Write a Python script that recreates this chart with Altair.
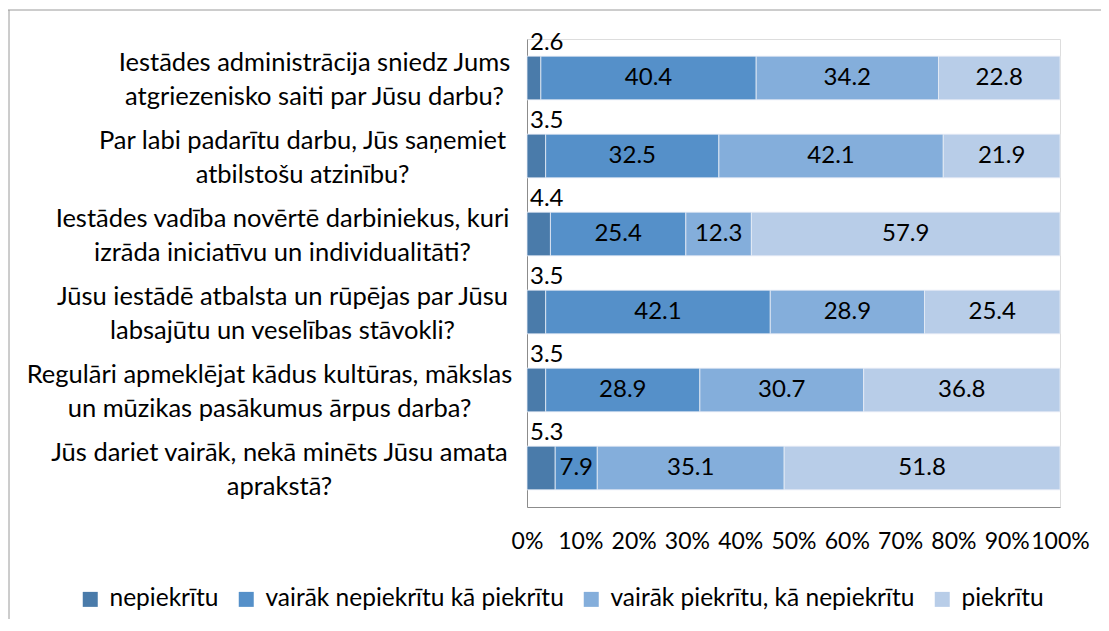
import json
import altair as alt
import pandas as pd

questions = [
    "Iestādes administrācija sniedz Jums\natgriezenisko saiti par Jūsu darbu?",
    "Par labi padarītu darbu, Jūs saņemiet\natbilstošu atzinību?",
    "Iestādes vadība novērtē darbiniekus, kuri\nizrāda iniciatīvu un individualitāti?",
    "Jūsu iestādē atbalsta un rūpējas par Jūsu\nlabsajūtu un veselības stāvokli?",
    "Regulāri apmeklējat kādus kultūras, mākslas\nun mūzikas pasākumus ārpus darba?",
    "Jūs dariet vairāk, nekā minēts Jūsu amata\naprakstā?",
]
categories = [
    "nepiekrītu",
    "vairāk nepiekrītu kā piekrītu",
    "vairāk piekrītu, kā nepiekrītu",
    "piekrītu",
]
nepiekritu = [2.6, 3.5, 4.4, 3.5, 3.5, 5.3]
vairak_nepiekritu = [40.4, 32.5, 25.4, 42.1, 28.9, 7.9]
vairak_piekritu = [34.2, 42.1, 12.3, 28.9, 30.7, 35.1]
piekritu = [22.8, 21.9, 57.9, 25.4, 36.8, 51.8]
colors = ["#4a7baa", "#5590c9", "#84aedb", "#b8cde8"]

# distance from the axis to the centre of each (centred) label block
label_centre_gap = [213, 225, 245, 245, 258, 248]

series = [nepiekritu, vairak_nepiekritu, vairak_piekritu, piekritu]
rows = []
for qi, q in enumerate(questions):
    for ci, c in enumerate(categories):
        rows.append({"q": q, "qi": qi, "cat": c, "ord": ci, "value": series[ci][qi]})
df = pd.DataFrame(rows)

FONT = "Lato, sans-serif"

pad_cond = {
    "condition": [
        {"test": "datum.value == " + json.dumps(q), "value": g}
        for q, g in zip(questions[1:], label_centre_gap[1:])
    ],
    "value": label_centre_gap[0],
}

base = alt.Chart(df).transform_stack(
    stack="value", groupby=["q"], as_=["x0", "x1"],
    sort=[alt.SortField("ord", order="ascending")], offset="normalize",
).transform_calculate(
    mid="(datum.x0 + datum.x1) / 2",
    lbl="format(datum.value, '.1f')",
)

yenc = alt.Y(
    "q:N", sort=questions, title=None,
    scale=alt.Scale(paddingInner=0.44, paddingOuter=0.22),
    axis=alt.Axis(
        labelExpr="split(datum.label, '\\n')",
        labelFontSize=25.5, labelFont=FONT, labelColor="#000000",
        labelAlign="center", labelPadding=pad_cond, labelLimit=700,
        labelLineHeight=34, ticks=False, domainColor="#8c8c8c",
        labelBaseline="middle", labelOffset=-15,
    ),
)

bars = base.mark_bar(stroke="#e8eef6", strokeWidth=0.8).encode(
    y=yenc,
    x=alt.X(
        "x0:Q", title=None,
        scale=alt.Scale(domain=[0, 1], nice=False),
        axis=alt.Axis(
            format="%", values=[i / 10 for i in range(11)],
            grid=False, ticks=False, labelFontSize=23, labelFont=FONT,
            labelColor="#000000", labelPadding=23, domainColor="#8c8c8c",
            labelFlush=False,
        ),
    ),
    x2="x1:Q",
    color=alt.Color(
        "cat:N", sort=categories,
        scale=alt.Scale(domain=categories, range=colors),
        legend=alt.Legend(
            title=None, orient="none", direction="horizontal",
            legendX=-449, legendY=548,
            symbolType="square", symbolSize=225, symbolStrokeWidth=0,
            labelFontSize=24.5, labelFont=FONT, labelColor="#000000",
            columnPadding=15, symbolOffset=0, labelOffset=7,
            labelLimit=400,
        ),
    ),
)

mid_text = base.transform_filter("datum.ord > 0").mark_text(
    fontSize=24, font=FONT, color="#000000", baseline="middle", align="center"
).encode(
    y=alt.Y("q:N", sort=questions),
    x=alt.X("mid:Q"),
    text="lbl:N",
)

first_text = base.transform_filter("datum.ord == 0").mark_text(
    fontSize=24, font=FONT, color="#000000", baseline="middle", align="left",
    dx=3, dy=-35,
).encode(
    y=alt.Y("q:N", sort=questions),
    x=alt.X("x0:Q"),
    text="lbl:N",
)

frame_df = pd.DataFrame({"k": [0]})
frame_top = alt.Chart(frame_df).mark_rule(color="#9a9a9a", strokeWidth=1).encode(
    x=alt.value(-519), x2=alt.value(580), y=alt.value(-29)
)
frame_left = alt.Chart(frame_df).mark_rule(color="#9a9a9a", strokeWidth=1).encode(
    x=alt.value(-518), y=alt.value(-29), y2=alt.value(590)
)

chart = alt.layer(bars, mid_text, first_text, frame_top, frame_left).properties(
    width=533, height=468,
    autosize=alt.AutoSizeParams(type="none"),
    padding={"left": 519, "top": 31, "right": 41, "bottom": 112},
).configure_view(stroke=None).configure(background="white")

chart.save("out.html", embed_options={"renderer": "svg", "actions": False})
